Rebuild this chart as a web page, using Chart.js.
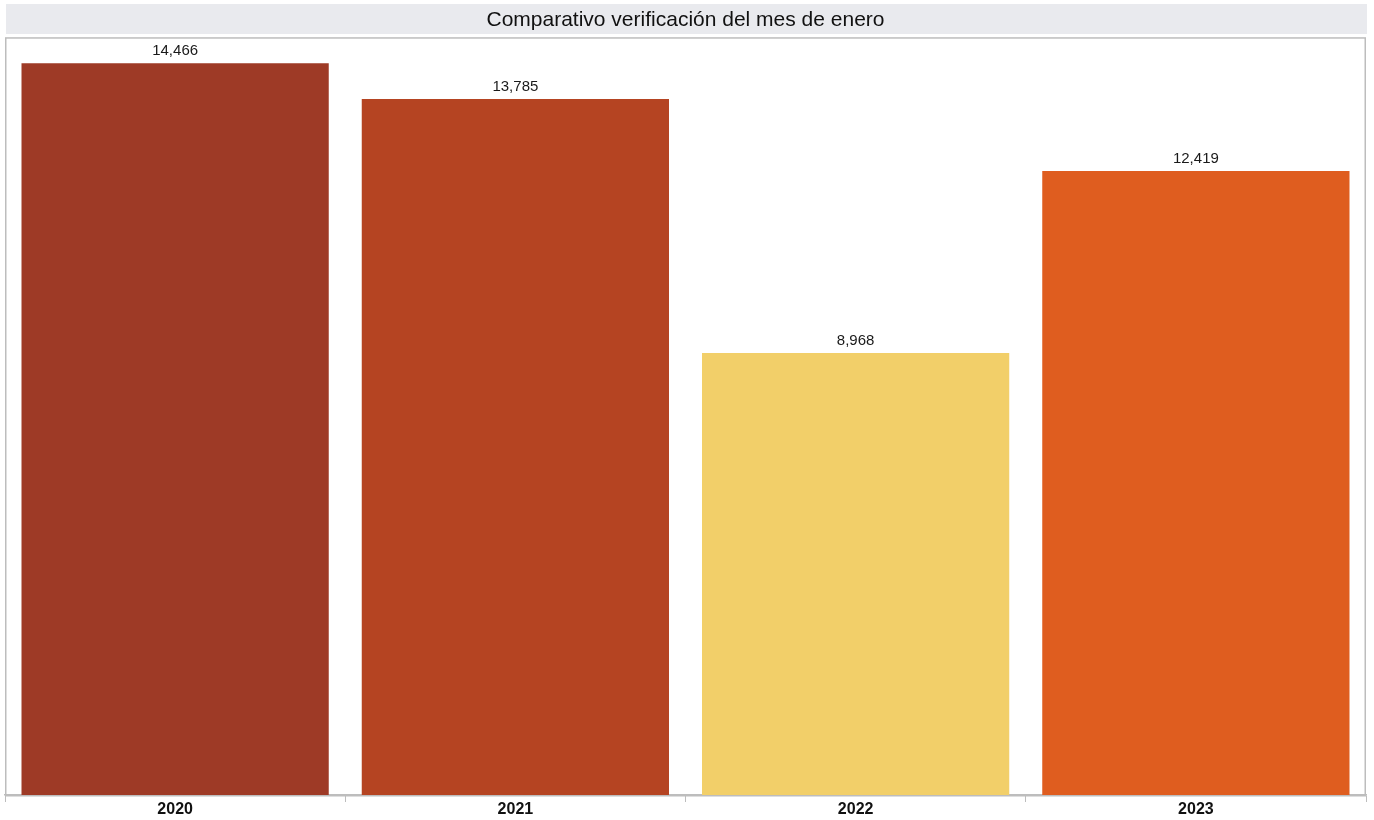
<!DOCTYPE html>
<html>
<head>
<meta charset="utf-8">
<title>Comparativo verificación del mes de enero</title>
<script src="https://cdn.jsdelivr.net/npm/chart.js@4.4.0/dist/chart.umd.min.js"></script>
<style>
    html, body { margin: 0; padding: 0; background: #fff; }
    #wrap { width: 1374px; height: 820px; position: relative; }
</style>
</head>
<body>
<div id="wrap"><canvas id="chartEnero"></canvas></div>
<script>
// ---- data ----
const years = ['2020', '2021', '2022', '2023'];
const verificaciones = [14466, 13785, 8968, 12419];
const barColors = ['#9e3a26', '#b54422', '#f2cf69', '#df5d1f'];
const chartTitle = 'Comparativo verificación del mes de enero';

const fontFam = "'Liberation Sans', Arial, Helvetica, sans-serif";
const frameColor = '#bdbdbd';

// gray band behind the title
const titleBand = {
    id: 'titleBand',
    beforeDraw(chart) {
        const t = chart.titleBlock;
        if (!t) return;
        const ctx = chart.ctx;
        ctx.save();
        ctx.fillStyle = '#e9eaee';
        ctx.fillRect(chart.chartArea.left + 1, t.top, chart.chartArea.width, 30);
        ctx.restore();
    }
};

// frame around the plot
const plotFrame = {
    id: 'plotFrame',
    afterDatasetsDraw(chart) {
        const a = chart.chartArea;
        const ctx = chart.ctx;
        ctx.save();
        ctx.strokeStyle = frameColor;
        ctx.lineWidth = 1.5;
        ctx.strokeRect(a.left + 0.75, a.top + 0.75, a.width - 1.5, a.height);
        ctx.restore();
    }
};

// value labels above bars
const valueLabels = {
    id: 'valueLabels',
    afterDatasetsDraw(chart) {
        const ctx = chart.ctx;
        const meta = chart.getDatasetMeta(0);
        ctx.save();
        ctx.font = '15px ' + fontFam;
        ctx.fillStyle = '#1a1a1a';
        ctx.textAlign = 'center';
        ctx.textBaseline = 'bottom';
        meta.data.forEach((bar, i) => {
            const v = chart.data.datasets[0].data[i];
            ctx.fillText(v.toLocaleString('en-US'), bar.x, bar.y - 5);
        });
        ctx.restore();
    }
};

new Chart(document.getElementById('chartEnero'), {
    type: 'bar',
    data: {
        labels: years,
        datasets: [{
            label: 'Verificaciones',
            data: verificaciones,
            backgroundColor: barColors,
            borderWidth: 0,
            barPercentage: 0.903,
            categoryPercentage: 1.0
        }]
    },
    options: {
        responsive: true,
        maintainAspectRatio: false,
        animation: false,
        layout: { padding: { top: 4, left: 5, right: 8, bottom: 2 } },
        plugins: {
            legend: { display: false },
            tooltip: { enabled: false },
            title: {
                display: true,
                text: chartTitle,
                color: '#111',
                font: { family: fontFam, size: 21, weight: 'normal', lineHeight: 1.2 },
                padding: { top: 4, bottom: 4 }
            }
        },
        scales: {
            x: {
                grid: { display: true, drawOnChartArea: false, drawTicks: true, tickLength: 7, color: frameColor, offset: true },
                border: { display: true, color: frameColor, width: 1.5 },
                ticks: { color: '#111', padding: 0, font: { family: fontFam, size: 16, weight: 'bold', lineHeight: 1 } }
            },
            y: {
                display: false,
                min: 580,
                max: 14960
            }
        }
    },
    plugins: [titleBand, plotFrame, valueLabels]
});
</script>
</body>
</html>
